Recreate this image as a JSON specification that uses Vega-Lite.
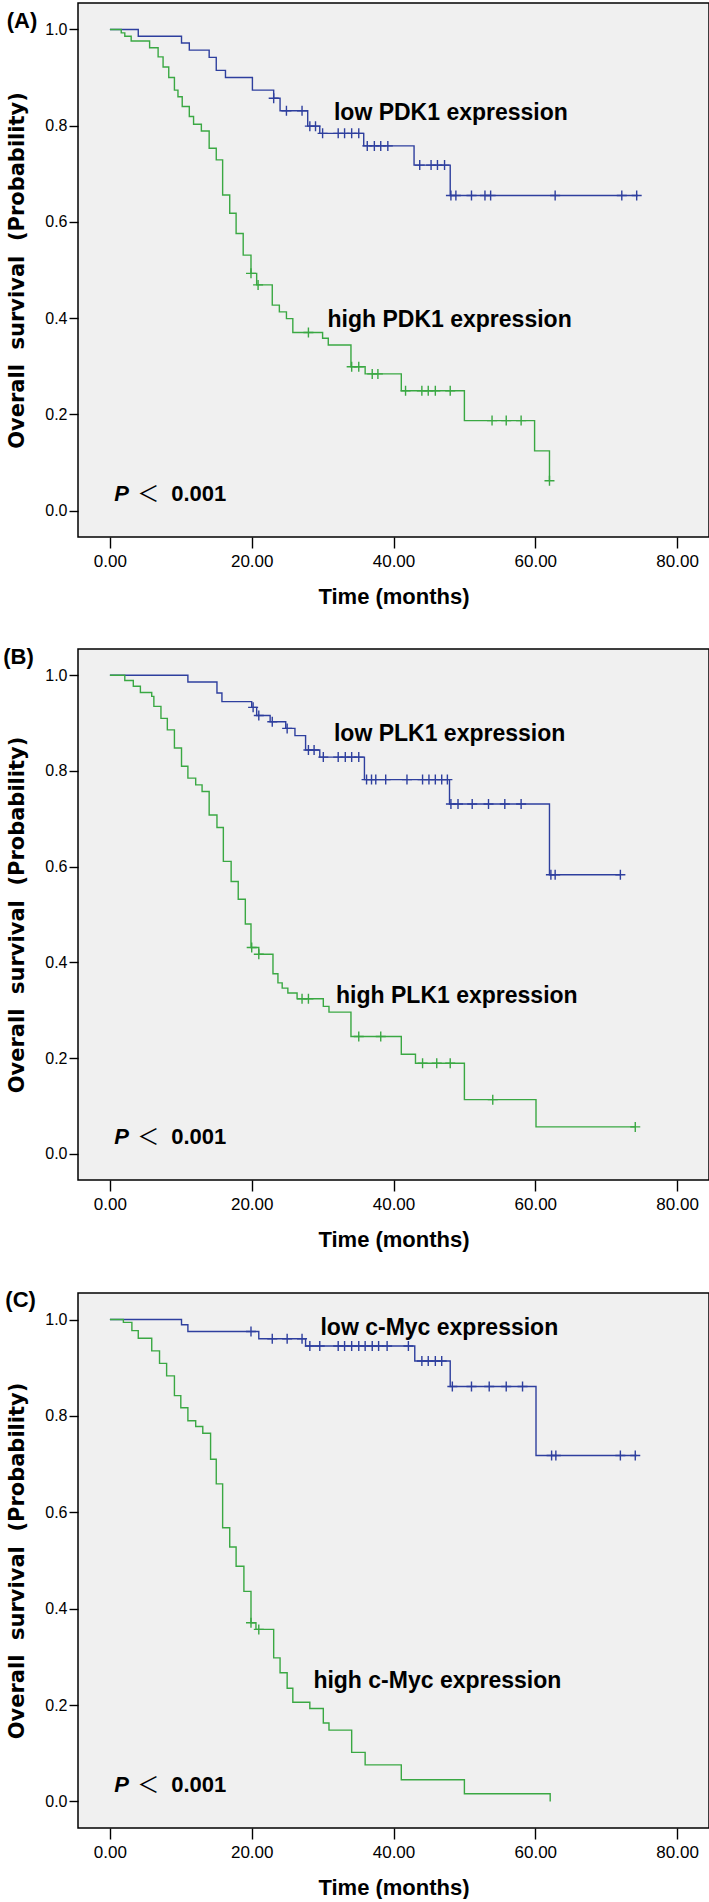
{
  "$schema": "https://vega.github.io/schema/vega-lite/v6.json",
  "background": "white",
  "padding": {"left": 2, "top": 2, "right": 0, "bottom": 0},
  "spacing": 37,
  "datasets": {
    "km": [
      {"p":"A","g":"low","k":"s","t":0,"s":1},
      {"p":"A","g":"low","k":"s","t":4.0,"s":0.986},
      {"p":"A","g":"low","k":"s","t":10.1,"s":0.972},
      {"p":"A","g":"low","k":"s","t":11.2,"s":0.957},
      {"p":"A","g":"low","k":"s","t":14.0,"s":0.942},
      {"p":"A","g":"low","k":"s","t":15.0,"s":0.915},
      {"p":"A","g":"low","k":"s","t":16.3,"s":0.9},
      {"p":"A","g":"low","k":"s","t":20.1,"s":0.874},
      {"p":"A","g":"low","k":"s","t":23.1,"s":0.857},
      {"p":"A","g":"low","k":"s","t":24.0,"s":0.831},
      {"p":"A","g":"low","k":"s","t":27.9,"s":0.799},
      {"p":"A","g":"low","k":"s","t":29.6,"s":0.784},
      {"p":"A","g":"low","k":"s","t":35.8,"s":0.758},
      {"p":"A","g":"low","k":"s","t":42.9,"s":0.718},
      {"p":"A","g":"low","k":"s","t":48.0,"s":0.655},
      {"p":"A","g":"low","k":"s","t":74.5,"s":0.655},
      {"p":"A","g":"high","k":"s","t":0,"s":1},
      {"p":"A","g":"high","k":"s","t":1.6,"s":0.993},
      {"p":"A","g":"high","k":"s","t":2.1,"s":0.986},
      {"p":"A","g":"high","k":"s","t":3.0,"s":0.976},
      {"p":"A","g":"high","k":"s","t":5.6,"s":0.962},
      {"p":"A","g":"high","k":"s","t":6.8,"s":0.943},
      {"p":"A","g":"high","k":"s","t":7.5,"s":0.922},
      {"p":"A","g":"high","k":"s","t":8.3,"s":0.9},
      {"p":"A","g":"high","k":"s","t":9.1,"s":0.874},
      {"p":"A","g":"high","k":"s","t":9.6,"s":0.86},
      {"p":"A","g":"high","k":"s","t":10.2,"s":0.84},
      {"p":"A","g":"high","k":"s","t":11.2,"s":0.819},
      {"p":"A","g":"high","k":"s","t":11.8,"s":0.803},
      {"p":"A","g":"high","k":"s","t":12.9,"s":0.789},
      {"p":"A","g":"high","k":"s","t":14.0,"s":0.753},
      {"p":"A","g":"high","k":"s","t":15.0,"s":0.729},
      {"p":"A","g":"high","k":"s","t":15.9,"s":0.656},
      {"p":"A","g":"high","k":"s","t":16.9,"s":0.618},
      {"p":"A","g":"high","k":"s","t":17.8,"s":0.576},
      {"p":"A","g":"high","k":"s","t":18.8,"s":0.531},
      {"p":"A","g":"high","k":"s","t":19.9,"s":0.493},
      {"p":"A","g":"high","k":"s","t":20.7,"s":0.469},
      {"p":"A","g":"high","k":"s","t":22.9,"s":0.427},
      {"p":"A","g":"high","k":"s","t":23.9,"s":0.413},
      {"p":"A","g":"high","k":"s","t":24.9,"s":0.399},
      {"p":"A","g":"high","k":"s","t":25.8,"s":0.37},
      {"p":"A","g":"high","k":"s","t":30.0,"s":0.358},
      {"p":"A","g":"high","k":"s","t":30.8,"s":0.344},
      {"p":"A","g":"high","k":"s","t":34.0,"s":0.299},
      {"p":"A","g":"high","k":"s","t":36.0,"s":0.284},
      {"p":"A","g":"high","k":"s","t":41.1,"s":0.249},
      {"p":"A","g":"high","k":"s","t":50.0,"s":0.187},
      {"p":"A","g":"high","k":"s","t":59.9,"s":0.124},
      {"p":"A","g":"high","k":"s","t":62.0,"s":0.062},
      {"p":"A","g":"low","k":"c","t":23.1,"s":0.857},
      {"p":"A","g":"low","k":"c","t":24.9,"s":0.831},
      {"p":"A","g":"low","k":"c","t":27.1,"s":0.831},
      {"p":"A","g":"low","k":"c","t":28.2,"s":0.799},
      {"p":"A","g":"low","k":"c","t":29.0,"s":0.799},
      {"p":"A","g":"low","k":"c","t":30.0,"s":0.784},
      {"p":"A","g":"low","k":"c","t":32.2,"s":0.784},
      {"p":"A","g":"low","k":"c","t":33.1,"s":0.784},
      {"p":"A","g":"low","k":"c","t":34.1,"s":0.784},
      {"p":"A","g":"low","k":"c","t":35.1,"s":0.784},
      {"p":"A","g":"low","k":"c","t":36.3,"s":0.758},
      {"p":"A","g":"low","k":"c","t":37.3,"s":0.758},
      {"p":"A","g":"low","k":"c","t":38.2,"s":0.758},
      {"p":"A","g":"low","k":"c","t":39.2,"s":0.758},
      {"p":"A","g":"low","k":"c","t":43.7,"s":0.718},
      {"p":"A","g":"low","k":"c","t":45.3,"s":0.718},
      {"p":"A","g":"low","k":"c","t":46.2,"s":0.718},
      {"p":"A","g":"low","k":"c","t":47.2,"s":0.718},
      {"p":"A","g":"low","k":"c","t":48.1,"s":0.655},
      {"p":"A","g":"low","k":"c","t":48.8,"s":0.655},
      {"p":"A","g":"low","k":"c","t":51.0,"s":0.655},
      {"p":"A","g":"low","k":"c","t":52.9,"s":0.655},
      {"p":"A","g":"low","k":"c","t":53.7,"s":0.655},
      {"p":"A","g":"low","k":"c","t":62.8,"s":0.655},
      {"p":"A","g":"low","k":"c","t":72.2,"s":0.655},
      {"p":"A","g":"low","k":"c","t":74.3,"s":0.655},
      {"p":"A","g":"high","k":"c","t":19.9,"s":0.493},
      {"p":"A","g":"high","k":"c","t":20.9,"s":0.469},
      {"p":"A","g":"high","k":"c","t":28.0,"s":0.37},
      {"p":"A","g":"high","k":"c","t":34.1,"s":0.299},
      {"p":"A","g":"high","k":"c","t":35.1,"s":0.299},
      {"p":"A","g":"high","k":"c","t":37.0,"s":0.284},
      {"p":"A","g":"high","k":"c","t":37.8,"s":0.284},
      {"p":"A","g":"high","k":"c","t":41.7,"s":0.249},
      {"p":"A","g":"high","k":"c","t":44.0,"s":0.249},
      {"p":"A","g":"high","k":"c","t":44.9,"s":0.249},
      {"p":"A","g":"high","k":"c","t":45.9,"s":0.249},
      {"p":"A","g":"high","k":"c","t":48.0,"s":0.249},
      {"p":"A","g":"high","k":"c","t":53.9,"s":0.187},
      {"p":"A","g":"high","k":"c","t":55.9,"s":0.187},
      {"p":"A","g":"high","k":"c","t":58.0,"s":0.187},
      {"p":"A","g":"high","k":"c","t":62.0,"s":0.062},

      {"p":"B","g":"low","k":"s","t":0,"s":1},
      {"p":"B","g":"low","k":"s","t":11.0,"s":0.986},
      {"p":"B","g":"low","k":"s","t":15.1,"s":0.963},
      {"p":"B","g":"low","k":"s","t":15.8,"s":0.945},
      {"p":"B","g":"low","k":"s","t":20.0,"s":0.933},
      {"p":"B","g":"low","k":"s","t":20.7,"s":0.916},
      {"p":"B","g":"low","k":"s","t":22.6,"s":0.903},
      {"p":"B","g":"low","k":"s","t":24.8,"s":0.889},
      {"p":"B","g":"low","k":"s","t":26.1,"s":0.874},
      {"p":"B","g":"low","k":"s","t":27.6,"s":0.844},
      {"p":"B","g":"low","k":"s","t":29.6,"s":0.829},
      {"p":"B","g":"low","k":"s","t":35.9,"s":0.782},
      {"p":"B","g":"low","k":"s","t":47.9,"s":0.731},
      {"p":"B","g":"low","k":"s","t":62.0,"s":0.583},
      {"p":"B","g":"low","k":"s","t":72.0,"s":0.583},
      {"p":"B","g":"high","k":"s","t":0,"s":1},
      {"p":"B","g":"high","k":"s","t":2.1,"s":0.989},
      {"p":"B","g":"high","k":"s","t":3.3,"s":0.977},
      {"p":"B","g":"high","k":"s","t":4.3,"s":0.964},
      {"p":"B","g":"high","k":"s","t":5.9,"s":0.956},
      {"p":"B","g":"high","k":"s","t":6.2,"s":0.935},
      {"p":"B","g":"high","k":"s","t":7.2,"s":0.91},
      {"p":"B","g":"high","k":"s","t":8.1,"s":0.886},
      {"p":"B","g":"high","k":"s","t":9.1,"s":0.848},
      {"p":"B","g":"high","k":"s","t":10.1,"s":0.81},
      {"p":"B","g":"high","k":"s","t":11.0,"s":0.785},
      {"p":"B","g":"high","k":"s","t":12.1,"s":0.771},
      {"p":"B","g":"high","k":"s","t":13.0,"s":0.757},
      {"p":"B","g":"high","k":"s","t":14.0,"s":0.708},
      {"p":"B","g":"high","k":"s","t":15.1,"s":0.682},
      {"p":"B","g":"high","k":"s","t":16.0,"s":0.611},
      {"p":"B","g":"high","k":"s","t":17.1,"s":0.569},
      {"p":"B","g":"high","k":"s","t":18.1,"s":0.532},
      {"p":"B","g":"high","k":"s","t":19.1,"s":0.48},
      {"p":"B","g":"high","k":"s","t":19.9,"s":0.431},
      {"p":"B","g":"high","k":"s","t":21.0,"s":0.417},
      {"p":"B","g":"high","k":"s","t":23.0,"s":0.376},
      {"p":"B","g":"high","k":"s","t":23.7,"s":0.357},
      {"p":"B","g":"high","k":"s","t":24.3,"s":0.346},
      {"p":"B","g":"high","k":"s","t":25.1,"s":0.336},
      {"p":"B","g":"high","k":"s","t":26.4,"s":0.324},
      {"p":"B","g":"high","k":"s","t":30.1,"s":0.308},
      {"p":"B","g":"high","k":"s","t":30.9,"s":0.296},
      {"p":"B","g":"high","k":"s","t":34.0,"s":0.245},
      {"p":"B","g":"high","k":"s","t":41.1,"s":0.208},
      {"p":"B","g":"high","k":"s","t":43.1,"s":0.189},
      {"p":"B","g":"high","k":"s","t":50.0,"s":0.113},
      {"p":"B","g":"high","k":"s","t":60.1,"s":0.056},
      {"p":"B","g":"high","k":"s","t":74.1,"s":0.056},
      {"p":"B","g":"low","k":"c","t":20.2,"s":0.933},
      {"p":"B","g":"low","k":"c","t":21.0,"s":0.916},
      {"p":"B","g":"low","k":"c","t":22.9,"s":0.903},
      {"p":"B","g":"low","k":"c","t":25.0,"s":0.889},
      {"p":"B","g":"low","k":"c","t":28.0,"s":0.844},
      {"p":"B","g":"low","k":"c","t":28.8,"s":0.844},
      {"p":"B","g":"low","k":"c","t":30.1,"s":0.829},
      {"p":"B","g":"low","k":"c","t":32.2,"s":0.829},
      {"p":"B","g":"low","k":"c","t":33.2,"s":0.829},
      {"p":"B","g":"low","k":"c","t":34.1,"s":0.829},
      {"p":"B","g":"low","k":"c","t":35.1,"s":0.829},
      {"p":"B","g":"low","k":"c","t":36.2,"s":0.782},
      {"p":"B","g":"low","k":"c","t":36.9,"s":0.782},
      {"p":"B","g":"low","k":"c","t":37.5,"s":0.782},
      {"p":"B","g":"low","k":"c","t":38.9,"s":0.782},
      {"p":"B","g":"low","k":"c","t":41.9,"s":0.782},
      {"p":"B","g":"low","k":"c","t":44.1,"s":0.782},
      {"p":"B","g":"low","k":"c","t":45.0,"s":0.782},
      {"p":"B","g":"low","k":"c","t":45.9,"s":0.782},
      {"p":"B","g":"low","k":"c","t":46.8,"s":0.782},
      {"p":"B","g":"low","k":"c","t":47.6,"s":0.782},
      {"p":"B","g":"low","k":"c","t":48.1,"s":0.731},
      {"p":"B","g":"low","k":"c","t":49.1,"s":0.731},
      {"p":"B","g":"low","k":"c","t":51.1,"s":0.731},
      {"p":"B","g":"low","k":"c","t":53.4,"s":0.731},
      {"p":"B","g":"low","k":"c","t":55.7,"s":0.731},
      {"p":"B","g":"low","k":"c","t":58.0,"s":0.731},
      {"p":"B","g":"low","k":"c","t":62.2,"s":0.583},
      {"p":"B","g":"low","k":"c","t":62.8,"s":0.583},
      {"p":"B","g":"low","k":"c","t":72.0,"s":0.583},
      {"p":"B","g":"high","k":"c","t":20.0,"s":0.431},
      {"p":"B","g":"high","k":"c","t":21.0,"s":0.417},
      {"p":"B","g":"high","k":"c","t":27.1,"s":0.324},
      {"p":"B","g":"high","k":"c","t":28.0,"s":0.324},
      {"p":"B","g":"high","k":"c","t":35.1,"s":0.245},
      {"p":"B","g":"high","k":"c","t":38.2,"s":0.245},
      {"p":"B","g":"high","k":"c","t":44.1,"s":0.189},
      {"p":"B","g":"high","k":"c","t":46.1,"s":0.189},
      {"p":"B","g":"high","k":"c","t":48.0,"s":0.189},
      {"p":"B","g":"high","k":"c","t":54.0,"s":0.113},
      {"p":"B","g":"high","k":"c","t":74.1,"s":0.056},

      {"p":"C","g":"low","k":"s","t":0,"s":1},
      {"p":"C","g":"low","k":"s","t":10.1,"s":0.989},
      {"p":"C","g":"low","k":"s","t":11.0,"s":0.975},
      {"p":"C","g":"low","k":"s","t":21.0,"s":0.96},
      {"p":"C","g":"low","k":"s","t":27.6,"s":0.945},
      {"p":"C","g":"low","k":"s","t":43.0,"s":0.914},
      {"p":"C","g":"low","k":"s","t":48.0,"s":0.861},
      {"p":"C","g":"low","k":"s","t":60.1,"s":0.718},
      {"p":"C","g":"low","k":"s","t":74.3,"s":0.718},
      {"p":"C","g":"high","k":"s","t":0,"s":1},
      {"p":"C","g":"high","k":"s","t":1.9,"s":0.994},
      {"p":"C","g":"high","k":"s","t":3.1,"s":0.977},
      {"p":"C","g":"high","k":"s","t":4.0,"s":0.961},
      {"p":"C","g":"high","k":"s","t":5.9,"s":0.935},
      {"p":"C","g":"high","k":"s","t":7.0,"s":0.909},
      {"p":"C","g":"high","k":"s","t":8.0,"s":0.883},
      {"p":"C","g":"high","k":"s","t":9.1,"s":0.842},
      {"p":"C","g":"high","k":"s","t":10.0,"s":0.817},
      {"p":"C","g":"high","k":"s","t":11.0,"s":0.79},
      {"p":"C","g":"high","k":"s","t":12.1,"s":0.778},
      {"p":"C","g":"high","k":"s","t":13.1,"s":0.764},
      {"p":"C","g":"high","k":"s","t":14.2,"s":0.71},
      {"p":"C","g":"high","k":"s","t":15.0,"s":0.659},
      {"p":"C","g":"high","k":"s","t":15.9,"s":0.568},
      {"p":"C","g":"high","k":"s","t":16.9,"s":0.528},
      {"p":"C","g":"high","k":"s","t":17.8,"s":0.488},
      {"p":"C","g":"high","k":"s","t":18.9,"s":0.436},
      {"p":"C","g":"high","k":"s","t":19.9,"s":0.371},
      {"p":"C","g":"high","k":"s","t":20.6,"s":0.357},
      {"p":"C","g":"high","k":"s","t":23.1,"s":0.298},
      {"p":"C","g":"high","k":"s","t":24.0,"s":0.267},
      {"p":"C","g":"high","k":"s","t":25.0,"s":0.235},
      {"p":"C","g":"high","k":"s","t":25.8,"s":0.206},
      {"p":"C","g":"high","k":"s","t":28.2,"s":0.193},
      {"p":"C","g":"high","k":"s","t":30.1,"s":0.163},
      {"p":"C","g":"high","k":"s","t":30.9,"s":0.148},
      {"p":"C","g":"high","k":"s","t":34.1,"s":0.102},
      {"p":"C","g":"high","k":"s","t":36.0,"s":0.076},
      {"p":"C","g":"high","k":"s","t":41.1,"s":0.045},
      {"p":"C","g":"high","k":"s","t":50.0,"s":0.016},
      {"p":"C","g":"high","k":"s","t":62.1,"s":0.0},
      {"p":"C","g":"low","k":"c","t":19.9,"s":0.975},
      {"p":"C","g":"low","k":"c","t":22.9,"s":0.96},
      {"p":"C","g":"low","k":"c","t":25.0,"s":0.96},
      {"p":"C","g":"low","k":"c","t":27.1,"s":0.96},
      {"p":"C","g":"low","k":"c","t":28.2,"s":0.945},
      {"p":"C","g":"low","k":"c","t":29.6,"s":0.945},
      {"p":"C","g":"low","k":"c","t":32.2,"s":0.945},
      {"p":"C","g":"low","k":"c","t":33.1,"s":0.945},
      {"p":"C","g":"low","k":"c","t":34.1,"s":0.945},
      {"p":"C","g":"low","k":"c","t":35.1,"s":0.945},
      {"p":"C","g":"low","k":"c","t":36.0,"s":0.945},
      {"p":"C","g":"low","k":"c","t":37.0,"s":0.945},
      {"p":"C","g":"low","k":"c","t":37.9,"s":0.945},
      {"p":"C","g":"low","k":"c","t":39.1,"s":0.945},
      {"p":"C","g":"low","k":"c","t":42.1,"s":0.945},
      {"p":"C","g":"low","k":"c","t":44.0,"s":0.914},
      {"p":"C","g":"low","k":"c","t":44.9,"s":0.914},
      {"p":"C","g":"low","k":"c","t":45.9,"s":0.914},
      {"p":"C","g":"low","k":"c","t":46.8,"s":0.914},
      {"p":"C","g":"low","k":"c","t":48.3,"s":0.861},
      {"p":"C","g":"low","k":"c","t":51.0,"s":0.861},
      {"p":"C","g":"low","k":"c","t":53.5,"s":0.861},
      {"p":"C","g":"low","k":"c","t":55.9,"s":0.861},
      {"p":"C","g":"low","k":"c","t":58.2,"s":0.861},
      {"p":"C","g":"low","k":"c","t":62.3,"s":0.718},
      {"p":"C","g":"low","k":"c","t":62.9,"s":0.718},
      {"p":"C","g":"low","k":"c","t":72.0,"s":0.718},
      {"p":"C","g":"low","k":"c","t":74.1,"s":0.718},
      {"p":"C","g":"high","k":"c","t":19.9,"s":0.371},
      {"p":"C","g":"high","k":"c","t":21.0,"s":0.357}
    ],
    "lab": [
      {"p":"A","k":"panel","t":-12.4,"s":1.003,"txt":"(A)"},
      {"p":"A","k":"ann","t":31.6,"s":0.812,"txt":"low PDK1 expression"},
      {"p":"A","k":"ann","t":30.7,"s":0.381,"txt":"high PDK1 expression"},
      {"p":"B","k":"panel","t":-12.9,"s":1.023,"txt":"(B)"},
      {"p":"B","k":"ann","t":31.6,"s":0.863,"txt":"low PLK1 expression"},
      {"p":"B","k":"ann","t":31.9,"s":0.315,"txt":"high PLK1 expression"},
      {"p":"C","k":"panel","t":-12.6,"s":1.026,"txt":"(C)"},
      {"p":"C","k":"ann","t":29.7,"s":0.968,"txt":"low c-Myc expression"},
      {"p":"C","k":"ann","t":28.7,"s":0.235,"txt":"high c-Myc expression"}
    ],
    "pv": [
      {"k":"P","t":0.6,"s":0.02,"txt":"P"},
      {"k":"lt","t":5.4,"s":0.02,"txt":"＜"},
      {"k":"num","t":8.65,"s":0.02,"txt":"0.001"}
    ]
  },
  "vconcat": [
    {
      "width": 631, "height": 534,
      "encoding": {
        "x": {"field":"t","type":"quantitative","scale":{"domain":[-4.5,84.5],"nice":false,"zero":false},"axis":{"values":[0,20,40,60,80],"format":".2f","title":"Time (months)"}},
        "y": {"field":"s","type":"quantitative","scale":{"domain":[-0.055,1.055],"nice":false,"zero":false},"axis":{"values":[0,0.2,0.4,0.6,0.8,1.0],"format":".1f","title":"Overall\u00a0 survival\u00a0 (Probability)"}}
      },
      "layer": [
        {"data":{"name":"km"},"transform":[{"filter":"datum.p==='A' && datum.k==='s'"}],
         "mark":{"type":"line","interpolate":"step-after","strokeWidth":1.4},
         "encoding":{"color":{"field":"g","type":"nominal","scale":{"domain":["low","high"],"range":["#2e3f9e","#3aa843"]},"legend":null}}},
        {"data":{"name":"km"},"transform":[{"filter":"datum.p==='A' && datum.k==='c'"}],
         "mark":{"type":"point","shape":"M-1,0H1M0,-1V1","filled":false,"size":100,"strokeWidth":1.4,"opacity":1},
         "encoding":{"color":{"field":"g","type":"nominal","scale":{"domain":["low","high"],"range":["#2e3f9e","#3aa843"]},"legend":null}}},
        {"data":{"name":"lab"},"transform":[{"filter":"datum.p==='A' && datum.k==='panel'"}],
         "mark":{"type":"text","font":"Liberation Sans","fontWeight":"bold","fontSize":22,"align":"center","baseline":"alphabetic","color":"#000"},
         "encoding":{"text":{"field":"txt"}}},
        {"data":{"name":"lab"},"transform":[{"filter":"datum.p==='A' && datum.k==='ann'"}],
         "mark":{"type":"text","font":"Liberation Sans","fontWeight":"bold","fontSize":23,"align":"left","baseline":"alphabetic","color":"#000"},
         "encoding":{"text":{"field":"txt"}}},
        {"data":{"name":"pv"},"transform":[{"filter":"datum.k==='P'"}],
         "mark":{"type":"text","font":"Liberation Sans","fontWeight":"bold","fontStyle":"italic","fontSize":22,"align":"left","baseline":"alphabetic","color":"#000"},
         "encoding":{"text":{"field":"txt"}}},
        {"data":{"name":"pv"},"transform":[{"filter":"datum.k==='lt'"}],
         "mark":{"type":"text","font":"Noto Sans CJK SC","fontWeight":"normal","fontSize":22,"align":"center","baseline":"alphabetic","color":"#000"},
         "encoding":{"text":{"field":"txt"}}},
        {"data":{"name":"pv"},"transform":[{"filter":"datum.k==='num'"}],
         "mark":{"type":"text","font":"Liberation Sans","fontWeight":"bold","fontSize":22,"align":"left","baseline":"alphabetic","color":"#000"},
         "encoding":{"text":{"field":"txt"}}}
      ]
    },
    {
      "width": 631, "height": 531,
      "encoding": {
        "x": {"field":"t","type":"quantitative","scale":{"domain":[-4.5,84.5],"nice":false,"zero":false},"axis":{"values":[0,20,40,60,80],"format":".2f","title":"Time (months)"}},
        "y": {"field":"s","type":"quantitative","scale":{"domain":[-0.055,1.055],"nice":false,"zero":false},"axis":{"values":[0,0.2,0.4,0.6,0.8,1.0],"format":".1f","title":"Overall\u00a0 survival\u00a0 (Probability)"}}
      },
      "layer": [
        {"data":{"name":"km"},"transform":[{"filter":"datum.p==='B' && datum.k==='s'"}],
         "mark":{"type":"line","interpolate":"step-after","strokeWidth":1.4},
         "encoding":{"color":{"field":"g","type":"nominal","scale":{"domain":["low","high"],"range":["#2e3f9e","#3aa843"]},"legend":null}}},
        {"data":{"name":"km"},"transform":[{"filter":"datum.p==='B' && datum.k==='c'"}],
         "mark":{"type":"point","shape":"M-1,0H1M0,-1V1","filled":false,"size":100,"strokeWidth":1.4,"opacity":1},
         "encoding":{"color":{"field":"g","type":"nominal","scale":{"domain":["low","high"],"range":["#2e3f9e","#3aa843"]},"legend":null}}},
        {"data":{"name":"lab"},"transform":[{"filter":"datum.p==='B' && datum.k==='panel'"}],
         "mark":{"type":"text","font":"Liberation Sans","fontWeight":"bold","fontSize":22,"align":"center","baseline":"alphabetic","color":"#000"},
         "encoding":{"text":{"field":"txt"}}},
        {"data":{"name":"lab"},"transform":[{"filter":"datum.p==='B' && datum.k==='ann'"}],
         "mark":{"type":"text","font":"Liberation Sans","fontWeight":"bold","fontSize":23,"align":"left","baseline":"alphabetic","color":"#000"},
         "encoding":{"text":{"field":"txt"}}},
        {"data":{"name":"pv"},"transform":[{"filter":"datum.k==='P'"}],
         "mark":{"type":"text","font":"Liberation Sans","fontWeight":"bold","fontStyle":"italic","fontSize":22,"align":"left","baseline":"alphabetic","color":"#000"},
         "encoding":{"text":{"field":"txt"}}},
        {"data":{"name":"pv"},"transform":[{"filter":"datum.k==='lt'"}],
         "mark":{"type":"text","font":"Noto Sans CJK SC","fontWeight":"normal","fontSize":22,"align":"center","baseline":"alphabetic","color":"#000"},
         "encoding":{"text":{"field":"txt"}}},
        {"data":{"name":"pv"},"transform":[{"filter":"datum.k==='num'"}],
         "mark":{"type":"text","font":"Liberation Sans","fontWeight":"bold","fontSize":22,"align":"left","baseline":"alphabetic","color":"#000"},
         "encoding":{"text":{"field":"txt"}}}
      ]
    },
    {
      "width": 631, "height": 535,
      "encoding": {
        "x": {"field":"t","type":"quantitative","scale":{"domain":[-4.5,84.5],"nice":false,"zero":false},"axis":{"values":[0,20,40,60,80],"format":".2f","title":"Time (months)"}},
        "y": {"field":"s","type":"quantitative","scale":{"domain":[-0.055,1.055],"nice":false,"zero":false},"axis":{"values":[0,0.2,0.4,0.6,0.8,1.0],"format":".1f","title":"Overall\u00a0 survival\u00a0 (Probability)"}}
      },
      "layer": [
        {"data":{"name":"km"},"transform":[{"filter":"datum.p==='C' && datum.k==='s'"}],
         "mark":{"type":"line","interpolate":"step-after","strokeWidth":1.4},
         "encoding":{"color":{"field":"g","type":"nominal","scale":{"domain":["low","high"],"range":["#2e3f9e","#3aa843"]},"legend":null}}},
        {"data":{"name":"km"},"transform":[{"filter":"datum.p==='C' && datum.k==='c'"}],
         "mark":{"type":"point","shape":"M-1,0H1M0,-1V1","filled":false,"size":100,"strokeWidth":1.4,"opacity":1},
         "encoding":{"color":{"field":"g","type":"nominal","scale":{"domain":["low","high"],"range":["#2e3f9e","#3aa843"]},"legend":null}}},
        {"data":{"name":"lab"},"transform":[{"filter":"datum.p==='C' && datum.k==='panel'"}],
         "mark":{"type":"text","font":"Liberation Sans","fontWeight":"bold","fontSize":22,"align":"center","baseline":"alphabetic","color":"#000"},
         "encoding":{"text":{"field":"txt"}}},
        {"data":{"name":"lab"},"transform":[{"filter":"datum.p==='C' && datum.k==='ann'"}],
         "mark":{"type":"text","font":"Liberation Sans","fontWeight":"bold","fontSize":23,"align":"left","baseline":"alphabetic","color":"#000"},
         "encoding":{"text":{"field":"txt"}}},
        {"data":{"name":"pv"},"transform":[{"filter":"datum.k==='P'"}],
         "mark":{"type":"text","font":"Liberation Sans","fontWeight":"bold","fontStyle":"italic","fontSize":22,"align":"left","baseline":"alphabetic","color":"#000"},
         "encoding":{"text":{"field":"txt"}}},
        {"data":{"name":"pv"},"transform":[{"filter":"datum.k==='lt'"}],
         "mark":{"type":"text","font":"Noto Sans CJK SC","fontWeight":"normal","fontSize":22,"align":"center","baseline":"alphabetic","color":"#000"},
         "encoding":{"text":{"field":"txt"}}},
        {"data":{"name":"pv"},"transform":[{"filter":"datum.k==='num'"}],
         "mark":{"type":"text","font":"Liberation Sans","fontWeight":"bold","fontSize":22,"align":"left","baseline":"alphabetic","color":"#000"},
         "encoding":{"text":{"field":"txt"}}}
      ]
    }
  ],
  "config": {
    "view": {"fill":"#f0f0f0","stroke":"#000","strokeWidth":1.5},
    "axis": {"grid":false,"domain":false,"tickColor":"#000","tickWidth":1.4,"labelColor":"#000","titleColor":"#000","labelFont":"Liberation Sans","labelFlush":false,"labelOverlap":false},
    "axisX": {"tickSize":11,"labelPadding":5,"labelFontSize":17,"titleFont":"Liberation Sans","titleFontSize":22,"titleFontWeight":"bold","titlePadding":17},
    "axisY": {"tickSize":9,"labelPadding":2,"labelFontSize":16,"titleFont":"DejaVu Sans","titleFontSize":21,"titleFontWeight":"bold","titlePadding":17}
  }
}
